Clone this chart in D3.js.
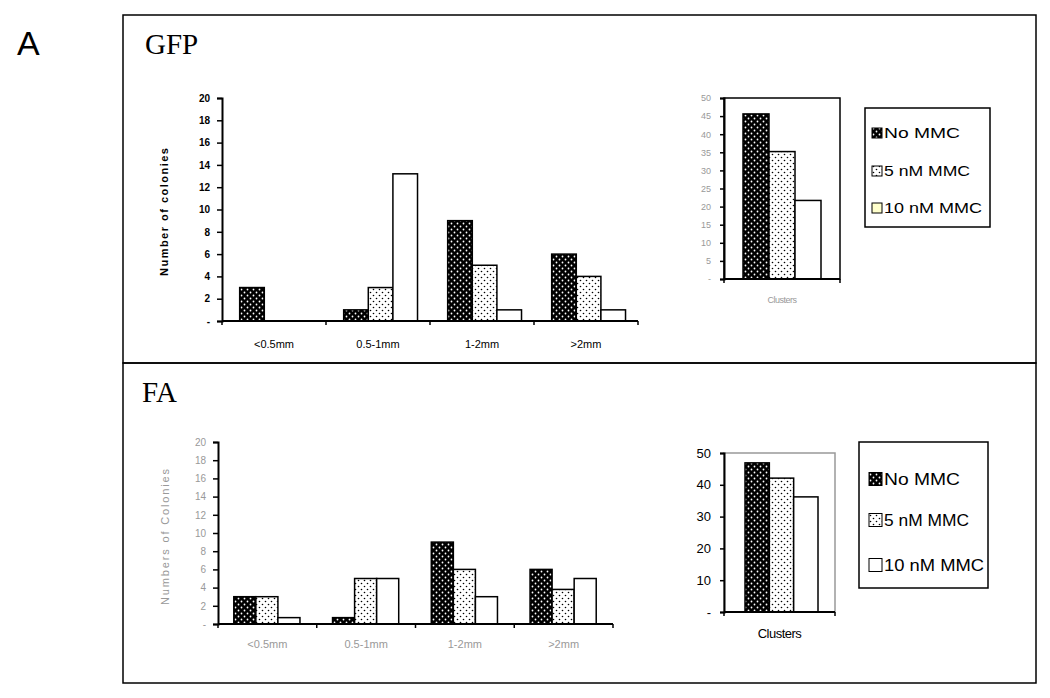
<!DOCTYPE html>
<html><head><meta charset="utf-8">
<script src="https://cdn.jsdelivr.net/npm/d3@7"></script>
<style>body{margin:0;background:#fff}svg{display:block}</style>
</head><body>
<script>
// ---------- data ----------
const sizeCategories = ["<0.5mm", "0.5-1mm", "1-2mm", ">2mm"];
const seriesNames = ["No MMC", "5 nM MMC", "10 nM MMC"];
const gfpNoMMC = [3, 1, 9, 6];
const gfp5nM = [0, 3, 5, 4];
const gfp10nM = [0, 13.2, 1, 1];
const faNoMMC = [3, 0.7, 9, 6];
const fa5nM = [3, 5, 6, 3.8];
const fa10nM = [0.7, 5, 3, 5];
const gfpClusters = [45.6, 35.2, 21.7];
const faClusters = [46.9, 42.1, 36.2];
const colonyTicks = [0, 2, 4, 6, 8, 10, 12, 14, 16, 18, 20];
const gfpClusterTicks = [0, 5, 10, 15, 20, 25, 30, 35, 40, 45, 50];
const faClusterTicks = [0, 10, 20, 30, 40, 50];

const W = 1050, H = 698;
const svg = d3.select("body").append("svg").attr("width", W).attr("height", H);
const defs = svg.append("defs");
const p1 = defs.append("pattern").attr("id", "pBlack").attr("patternUnits", "userSpaceOnUse").attr("width", 6).attr("height", 6);
p1.append("rect").attr("width", 6).attr("height", 6).attr("fill", "#000");
p1.append("circle").attr("cx", 1.5).attr("cy", 1.5).attr("r", 0.9).attr("fill", "#fff");
p1.append("circle").attr("cx", 4.5).attr("cy", 4.5).attr("r", 0.9).attr("fill", "#fff");
const p2 = defs.append("pattern").attr("id", "pDot").attr("patternUnits", "userSpaceOnUse").attr("width", 6).attr("height", 6);
p2.append("rect").attr("width", 6).attr("height", 6).attr("fill", "#fff");
p2.append("circle").attr("cx", 1.5).attr("cy", 1.5).attr("r", 0.8).attr("fill", "#000");
p2.append("circle").attr("cx", 4.5).attr("cy", 4.5).attr("r", 0.8).attr("fill", "#000");
const fills = ["url(#pBlack)", "url(#pDot)", "#fff"];

// frames
svg.append("rect").attr("x", 123).attr("y", 15).attr("width", 913).attr("height", 348)
  .attr("fill", "none").attr("stroke", "#000").attr("stroke-width", 1.5);
svg.append("rect").attr("x", 123).attr("y", 363).attr("width", 913).attr("height", 320)
  .attr("fill", "none").attr("stroke", "#000").attr("stroke-width", 1.5);
svg.append("text").attr("x", 17).attr("y", 55).attr("font-family", "Liberation Sans, Arial").attr("font-size", 34).text("A");
svg.append("text").attr("x", 145).attr("y", 54).attr("font-family", "Liberation Serif, serif").attr("font-size", 29).text("GFP");
svg.append("text").attr("x", 142).attr("y", 402).attr("font-family", "Liberation Serif, serif").attr("font-size", 29).text("FA");

function mainChart(o) {
  const g = svg.append("g");
  const x = d3.scaleBand().domain(sizeCategories).range([o.x0, o.x1]).padding(0);
  const step = x.bandwidth();
  const xs = d3.scaleBand().domain(seriesNames).range([step * o.g0, step * o.g1]).padding(0);
  const y = d3.scaleLinear().domain([0, 20]).range([o.yb, o.yt]);
  const series = [o.s1, o.s2, o.s3];
  series.forEach((vals, si) => {
    g.selectAll(null).data(vals).enter().append("rect")
      .attr("x", (d, i) => x(sizeCategories[i]) + xs(seriesNames[si]))
      .attr("y", d => y(d)).attr("width", xs.bandwidth()).attr("height", d => y(0) - y(d))
      .attr("fill", fills[si]).attr("stroke", "#000").attr("stroke-width", 1.5)
      .attr("display", d => d > 0 ? null : "none");
  });
  const ya = g.append("g").attr("transform", `translate(${o.x0},0)`)
    .call(d3.axisLeft(y).tickValues(colonyTicks).tickSize(5).tickFormat(d => d === 0 ? "-" : d));
  ya.select(".domain").attr("stroke", "#000").attr("stroke-width", 2);
  ya.selectAll(".tick line").attr("stroke", "#000").attr("stroke-width", 1.5);
  ya.selectAll("text").attr("font-family", "Liberation Sans, Arial").attr("font-size", o.tfs)
    .attr("font-weight", o.bold ? "bold" : "normal").attr("fill", o.tcol).attr("dx", -4);
  const xa = g.append("g").attr("transform", `translate(0,${o.yb})`);
  xa.append("line").attr("x1", o.x0).attr("x2", o.x1).attr("stroke", "#000").attr("stroke-width", 2);
  const bounds = sizeCategories.map(c => x(c)).concat([o.x1]);
  xa.selectAll(null).data(bounds).enter().append("line")
    .attr("x1", d => d).attr("x2", d => d).attr("y1", 0).attr("y2", 4).attr("stroke", "#000").attr("stroke-width", 1.5);
  xa.selectAll(null).data(sizeCategories).enter().append("text")
    .attr("x", d => x(d) + step / 2).attr("y", o.labDy).attr("text-anchor", "middle")
    .attr("font-family", "Liberation Sans, Arial").attr("font-size", 11).attr("fill", o.tcol).text(d => d);
  g.append("text").attr("transform", `translate(${o.ylx},${o.ylc}) rotate(-90)`)
    .attr("text-anchor", "middle").attr("font-family", "Liberation Sans, Arial").attr("font-size", 11)
    .attr("font-weight", o.bold ? "bold" : "normal").attr("fill", o.tcol)
    .attr("textLength", o.ylen).attr("lengthAdjust", "spacing").text(o.ylabel);
}

mainChart({x0: 222, x1: 638, yt: 98, yb: 321, g0: 0.17, g1: 0.88, s1: gfpNoMMC, s2: gfp5nM, s3: gfp10nM,
  bold: true, tcol: "#000", tfs: 10, labDy: 27, ylx: 168, ylc: 212, ylen: 128, ylabel: "Number of colonies"});
mainChart({x0: 218, x1: 613, yt: 442, yb: 624, g0: 0.16, g1: 0.83, s1: faNoMMC, s2: fa5nM, s3: fa10nM,
  bold: false, tcol: "#999", tfs: 10, labDy: 24, ylx: 169, ylc: 537, ylen: 136, ylabel: "Numbers of Colonies"});

function clusterChart(o) {
  const g = svg.append("g");
  const x = d3.scaleBand().domain(seriesNames).range([o.b0, o.b1]).padding(0);
  const y = d3.scaleLinear().domain([0, 50]).range([o.yb, o.yt]);
  g.append("rect").attr("x", o.x0).attr("y", o.yt).attr("width", o.x1 - o.x0).attr("height", o.yb - o.yt)
    .attr("fill", "none").attr("stroke", o.boxCol).attr("stroke-width", 1.5);
  g.selectAll(null).data(o.vals).enter().append("rect")
    .attr("x", (d, i) => x(seriesNames[i])).attr("y", d => y(d)).attr("width", x.bandwidth())
    .attr("height", d => y(0) - y(d)).attr("fill", (d, i) => fills[i]).attr("stroke", "#000").attr("stroke-width", 1.5);
  const ya = g.append("g").attr("transform", `translate(${o.x0},0)`)
    .call(d3.axisLeft(y).tickValues(o.ticks).tickSize(4).tickFormat(d => d === 0 ? "-" : d));
  ya.select(".domain").attr("stroke", "#000").attr("stroke-width", 2);
  ya.selectAll(".tick line").attr("stroke", "#000").attr("stroke-width", 1.5);
  ya.selectAll("text").attr("font-family", "Liberation Sans, Arial").attr("font-size", o.fs)
    .attr("fill", o.tcol).attr("dx", -6);
  g.append("line").attr("x1", o.x0).attr("x2", o.x1).attr("y1", o.yb).attr("y2", o.yb).attr("stroke", "#000").attr("stroke-width", 2);
  g.selectAll(null).data([o.x0, o.x1]).enter().append("line")
    .attr("x1", d => d).attr("x2", d => d).attr("y1", o.yb).attr("y2", o.yb + 4).attr("stroke", "#000").attr("stroke-width", 1.5);
  g.append("text").attr("x", (o.x0 + o.x1) / 2).attr("y", o.yb + o.labDy).attr("text-anchor", "middle")
    .attr("font-family", "Liberation Sans, Arial").attr("font-size", o.fs).attr("fill", o.tcol)
    .attr("letter-spacing", -0.5).text("Clusters");
}
clusterChart({x0: 724, x1: 840, b0: 743, b1: 821, yt: 98, yb: 279, vals: gfpClusters, ticks: gfpClusterTicks,
  fs: 9, tcol: "#999", boxCol: "#000", labDy: 24});
clusterChart({x0: 724, x1: 835, b0: 745, b1: 818, yt: 453, yb: 612, vals: faClusters, ticks: faClusterTicks,
  fs: 13, tcol: "#000", boxCol: "#999", labDy: 26});

function legend(o) {
  const g = svg.append("g");
  g.append("rect").attr("x", o.x).attr("y", o.y).attr("width", o.w).attr("height", o.h)
    .attr("fill", "#fff").attr("stroke", "#000").attr("stroke-width", 1.5);
  const items = g.selectAll(null).data(seriesNames).enter().append("g")
    .attr("transform", (d, i) => `translate(${o.sx},${o.ys[i]})`);
  items.append("rect").attr("x", 0).attr("y", -o.sw / 2).attr("width", o.sw).attr("height", o.sw)
    .attr("fill", (d, i) => o.fills[i]).attr("stroke", "#000").attr("stroke-width", 1);
  items.append("text").attr("x", o.sw + 2).attr("y", 0).attr("dy", "0.36em")
    .attr("font-family", "Liberation Sans, Arial").attr("font-size", o.fs).attr("fill", "#000")
    .attr("textLength", (d, i) => o.tl[i]).attr("lengthAdjust", "spacingAndGlyphs").text(d => d);
}
legend({x: 865, y: 108, w: 125, h: 119, sx: 872, ys: [133, 171, 208], sw: 10, fs: 14, tl: [76, 86, 98],
  fills: ["url(#pBlack)", "url(#pDot)", "#ffffcc"]});
legend({x: 859, y: 442, w: 129, h: 146, sx: 869, ys: [479, 520, 565], sw: 13, fs: 17, tl: [76, 85, 100],
  fills: ["url(#pBlack)", "url(#pDot)", "#fff"]});
</script>
</body></html>
